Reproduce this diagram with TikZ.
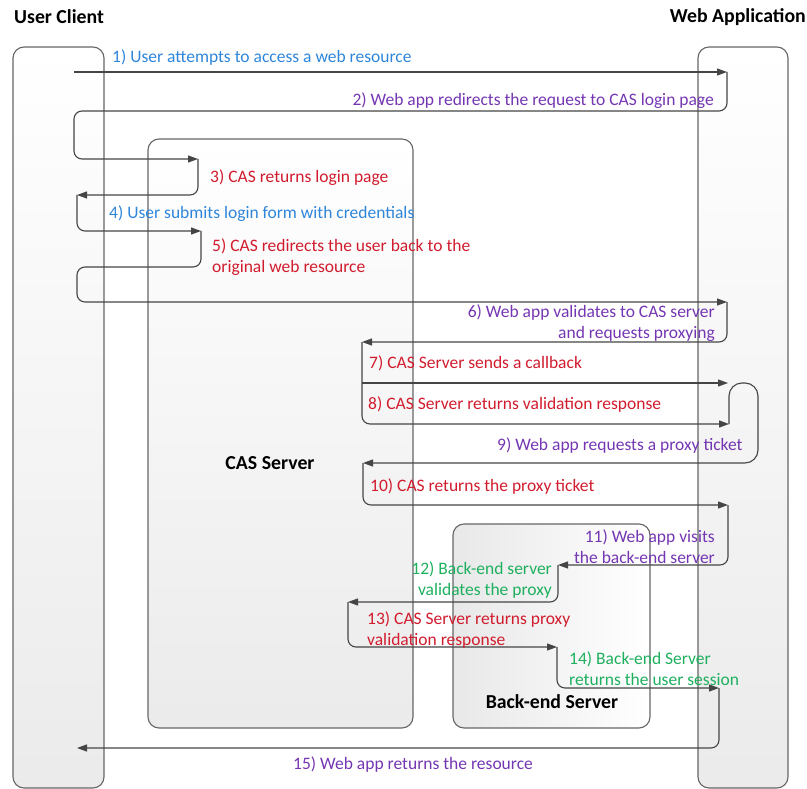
\documentclass[tikz,border=0pt]{standalone}
\usepackage{fontspec}
\setmainfont{Carlito}
\usetikzlibrary{arrows.meta}
\definecolor{cblue}{HTML}{2E86DA}
\definecolor{cpurple}{HTML}{7436B2}
\definecolor{cred}{HTML}{D11C2E}
\definecolor{cgreen}{HTML}{1EB05E}
\definecolor{cline}{HTML}{454545}
\definecolor{cborder}{HTML}{666666}
\newcommand{\lblfont}{\fontsize{17.5}{21}\selectfont}
\newcommand{\ttlfont}{\fontsize{19.8}{22}\selectfont\bfseries}
\tikzset{
  box/.style={draw=cborder, line width=1.1pt, rounded corners=11pt,
              top color=white, bottom color=black!8},
  flow/.style={draw=cline, line width=1.1pt, rounded corners=8pt,
               -{Triangle[length=10pt,width=7pt]}},
  lbl/.style={font=\lblfont, inner sep=0pt, yshift=-1.5pt},
  ttl/.style={font=\ttlfont, inner sep=0pt},
}
\begin{document}
\begin{tikzpicture}[x=1pt,y=-1pt]
\useasboundingbox (0,0) rectangle (807,789);

% participants
\draw[box] (13,47) rectangle (104,788);
\node[ttl, anchor=west] (usertitle) at (14,17) {User Client};
\draw[box] (698,47) rectangle (788,788);
\node[ttl, anchor=east] (webtitle) at (806,17) {Web Application};
\draw[box] (148,139) rectangle (413,728);
\node[ttl] (castitle) at (270,463) {CAS Server};
\draw[box, left color=black!9, right color=white] (453,524) rectangle (650,728);
\node[ttl] (betitle) at (552,702) {Back-end Server};

% message end points
\coordinate (u1)  at (74,72);
\coordinate (w1)  at (727,72);
\coordinate (c2)  at (198,159);
\coordinate (u3)  at (77,195);
\coordinate (c4)  at (201,231);
\coordinate (w5)  at (727,302);
\coordinate (c6)  at (362,342);
\coordinate (w7)  at (728,383);
\coordinate (w8)  at (729,424);
\coordinate (c9)  at (363,463);
\coordinate (w10) at (728,505);
\coordinate (b11) at (558,565);
\coordinate (c12) at (348,602);
\coordinate (b13) at (557,647);
\coordinate (w14) at (719,688);
\coordinate (u15) at (77,748);

% messages
\draw[flow] (u1) -- (w1);
\draw[flow] (w1) -- (727,111) -- (74,111) -- (74,159) -- (c2);
\draw[flow] (c2) -- (198,195) -- (u3);
\draw[flow] (u3) -- (77,231) -- (c4);
\draw[flow] (c4) -- (201,267) -- (77,267) -- (77,302) -- (w5);
\draw[flow] (w5) -- (727,342) -- (c6);
\draw[flow] (c6 |- w7) -- (w7);
\draw[flow] (c6) -- (362,424) -- (w8);
\draw[flow, rounded corners=13pt] (w8) -- (729,383) -- (758,383) -- (758,463) -- (c9);
\draw[flow] (c9) -- (363,505) -- (w10);
\draw[flow] (w10) -- (728,565) -- (b11);
\draw[flow] (b11) -- (558,602) -- (c12);
\draw[flow] (c12) -- (348,647) -- (b13);
\draw[flow] (b13) -- (557,688) -- (w14);
\draw[flow] (w14) -- (719,748) -- (u15);

% message labels
\node[lbl, text=cblue, anchor=west] (l1) at (112,56) {1) User attempts to access a web resource};
\node[lbl, text=cpurple, anchor=east] (l2) at (714,99) {2) Web app redirects the request to CAS login page};
\node[lbl, text=cred, anchor=west] (l3) at (210,176) {3) CAS returns login page};
\node[lbl, text=cblue, anchor=west] (l4) at (109,212) {4) User submits login form with credentials};
\node[lbl, text=cred, anchor=west, align=left] (l5) at (212,256) {5) CAS redirects the user back to the\\original web resource};
\node[lbl, text=cpurple, anchor=east, align=right] (l6) at (715,322) {6) Web app validates to CAS server\\and requests proxying};
\node[lbl, text=cred, anchor=west] (l7) at (369,362) {7) CAS Server sends a callback};
\node[lbl, text=cred, anchor=west] (l8) at (368,403) {8) CAS Server returns validation response};
\node[lbl, text=cpurple, anchor=west] (l9) at (497,444) {9) Web app requests a proxy ticket};
\node[lbl, text=cred, anchor=west] (l10) at (370,485) {10) CAS returns the proxy ticket};
\node[lbl, text=cpurple, anchor=east, align=right] (l11) at (715,545) {11) Web app visits\\the back-end server};
\node[lbl, text=cgreen, anchor=east, align=right] (l12) at (552,579) {12) Back-end server\\validates the proxy};
\node[lbl, text=cred, anchor=west, align=left] (l13) at (367,629) {13) CAS Server returns proxy\\validation response};
\node[lbl, text=cgreen, anchor=west, align=left] (l14) at (569,667) {14) Back-end Server\\returns the user session};
\node[lbl, text=cpurple, anchor=west] (l15) at (293,763) {15) Web app returns the resource};
\end{tikzpicture}
\end{document}
